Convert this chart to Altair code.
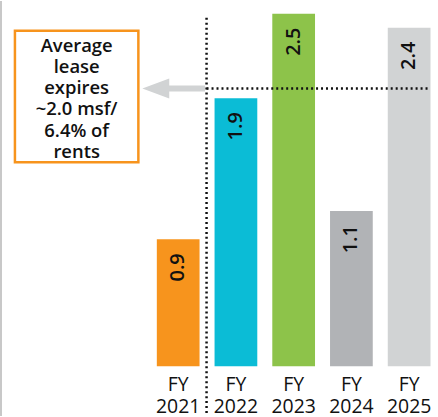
import altair as alt
import pandas as pd

FONT = "Open Sans"

categories = ["FY 2021", "FY 2022", "FY 2023", "FY 2024", "FY 2025"]
values = [0.9, 1.9, 2.5, 1.1, 2.4]
labels = ["0.9", "1.9", "2.5", "1.1", "2.4"]
colors = ["#F7941D", "#0BBCD6", "#8DC34A", "#B1B3B6", "#D1D3D4"]
note_lines = ["Average", "lease", "expires", "~2.0 msf/", "6.4% of", "rents"]

df = pd.DataFrame({"cat": categories, "value": values, "label": labels, "color": colors})
one = pd.DataFrame({"a": [0]})

L = 150  # left padding (pixels); annotation positions are relative to plot origin

x = alt.X(
    "cat:N", sort=categories,
    scale=alt.Scale(paddingInner=0.26, paddingOuter=0.13),
    axis=alt.Axis(title=None, domain=False, ticks=False, labelAngle=0,
                  labelExpr="split(datum.value, ' ')", labelFontSize=19.5,
                  labelFont=FONT, labelColor="#111111", labelLineHeight=22,
                  labelPadding=9, labelOverlap=False, labelFontWeight=500),
)
y = alt.Y("value:Q", scale=alt.Scale(domain=[0, 2.59], nice=False, zero=True), axis=None)

bars = alt.Chart(df).mark_bar().encode(x=x, y=y, color=alt.Color("color:N", scale=None))
vals = alt.Chart(df).mark_text(angle=270, align="right", baseline="middle", dx=-14,
                               fontSize=20, font=FONT, fontWeight=600, color="#111111").encode(
    x=x, y=y, text="label:N")

left_rule = alt.Chart(one).mark_rule(color="#c8c8c8", strokeWidth=2).encode(
    x=alt.value(1 - L), y=alt.value(0), y2=alt.value(417))

vline = alt.Chart(one).mark_rule(color="#111111", strokeWidth=2.5, strokeDash=[2, 3]).encode(
    x=alt.value(207.5 - L), y=alt.value(17), y2=alt.value(414))
hline = alt.Chart(one).mark_rule(color="#111111", strokeWidth=2.5, strokeDash=[2, 3]).encode(
    x=alt.value(207.5 - L), x2=alt.value(432 - L), y=alt.value(88))

shaft = alt.Chart(one).mark_rule(color="#D1D3D4", strokeWidth=6).encode(
    x=alt.value(166 - L), x2=alt.value(206 - L), y=alt.value(88))
head = alt.Chart(one).mark_point(shape="M -1 0 L 1 -0.74 L 1 0.74 Z", filled=True,
                                 color="#D1D3D4", opacity=1, size=729).encode(
    x=alt.value(156.5 - L), y=alt.value(88))

box = alt.Chart(one).mark_rect(fill="white", stroke="#F7941D", strokeWidth=2.5).encode(
    x=alt.value(15 - L), x2=alt.value(139 - L), y=alt.value(30), y2=alt.value(162))
note = alt.Chart(one).mark_text(text=note_lines, lineHeight=21.3, baseline="alphabetic",
                                align="center", fontSize=18.5, font=FONT, fontWeight=600,
                                color="#111111").encode(
    x=alt.value(77 - L), y=alt.value(51))

chart = alt.layer(left_rule, bars, vals, vline, hline, shaft, head, box, note).properties(
    width=290, height=367,
    autosize=alt.AutoSizeParams(type="none"),
    padding={"left": L, "top": 0, "right": 0, "bottom": 50},
).configure_view(stroke=None)

chart.save("out.html", embed_options={"renderer": "svg", "actions": False})
